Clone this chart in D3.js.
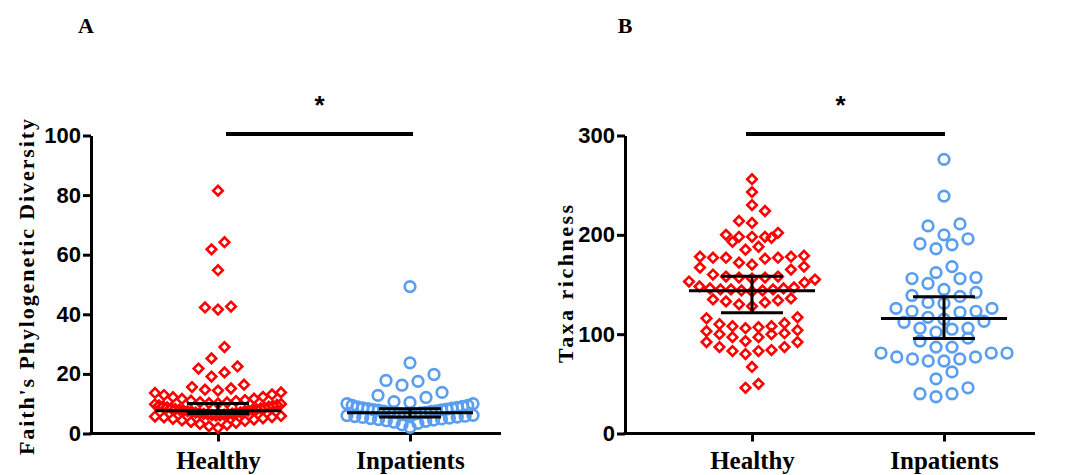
<!DOCTYPE html>
<html><head><meta charset="utf-8">
<script src="https://cdn.jsdelivr.net/npm/d3@7"></script>
<style>html,body{margin:0;padding:0;background:#fff;}svg{display:block;}</style>
</head><body>
<svg id="chart" width="1070" height="475"></svg>
<script>
// ---------------- data ----------------
const categories = ["Healthy", "Inpatients"];
const panelLabels = ["A", "B"];
const yTitles = ["Faith's Phylogenetic Diversity", "Taxa richness"];
const sigLabels = ["*", "*"];
const faithTicks = [0, 20, 40, 60, 80, 100];
const taxaTicks = [0, 100, 200, 300];

const faithHealthy = [81.5, 64.2, 61.8, 54.8, 42.6, 41.6, 42.3, 29.0, 25.2, 22.5, 20.5, 21.8, 19.1, 16.4,
  15.6, 15.1, 14.7, 14.4, 13.8, 13.6, 13.1, 12.9, 12.3, 12.2, 11.7, 11.6, 11.2, 11.0, 10.9, 10.5, 10.4, 10.2, 10.1, 9.9,
  9.8, 9.6, 9.4, 9.3, 9.1, 9.0, 8.8, 8.6, 8.5, 8.4, 8.2, 8.1, 8.0, 7.9, 7.7, 7.7, 7.5, 7.4, 7.3, 7.1, 7.0, 6.9, 6.8, 6.7,
  6.6, 6.4, 6.3, 6.2, 6.0, 5.9, 5.7, 5.5, 5.4, 5.1, 4.9, 4.7, 4.4, 4.2, 3.9, 3.6, 3.2, 2.9, 2.4, 1.9, 6.5, 6.1];
const faithInpatients = [49.3, 23.7, 19.8, 17.8, 17.5, 16.2, 13.8, 12.8, 12.1, 10.7, 10.4, 10.0, 10.0, 9.4, 9.4,
  9.1, 8.9, 8.8, 8.6, 8.5, 8.3, 8.2, 8.0, 7.9, 7.8, 7.6, 7.5, 7.4, 7.2, 7.1, 7.0, 6.9, 6.7, 6.6, 6.4, 6.3, 6.1, 6.0,
  5.8, 5.7, 5.5, 5.4, 5.2, 5.0, 4.9, 4.7, 4.5, 4.3, 4.1, 3.8, 3.4, 2.9, 2.1];
const taxaHealthy = [256, 243, 230, 224, 214, 212,
  202, 198, 198, 193, 197, 198, 200,
  188, 185,
  178, 177, 176, 179, 177, 177, 178, 172,
  168, 170, 167, 165,
  160, 158, 157, 156, 152, 153, 155, 157, 158,
  145, 146, 147, 145, 143, 144, 146, 145, 144, 148,
  135, 133, 132, 136, 134, 130, 128,
  117, 111, 108, 107, 106, 108, 110, 116,
  103, 100, 97, 93, 92, 87, 87, 92, 97, 100, 101, 104,
  83, 80, 83, 84,
  67, 46, 50];
const taxaInpatients = [276, 239, 209, 211, 196, 190, 186, 191, 200, 168, 157, 156, 162, 151, 156, 145, 142, 139, 138,
  132, 126, 123, 122, 123, 126, 131, 117, 113, 115, 112, 106, 105, 102, 106, 96, 93, 87, 87,
  81, 77, 75, 73, 81, 73, 75, 77, 81, 55, 62, 40, 37, 40, 46];

const faithCenter = [7.6, 7.0], faithLower = [6.7, 5.5], faithUpper = [10.1, 8.3];
const taxaCenter = [143.6, 115.8], taxaLower = [121.5, 95.6], taxaUpper = [158.4, 137.6];

// ---------------- drawing ----------------
const svg = d3.select("#chart");
const RED = "#ff0000", BLUE = "#5a9ef0";
const SANS = "'Liberation Sans', Arial, sans-serif";
const SERIF = "'Liberation Serif', 'Times New Roman', serif";

const panels = [
  { ox: 91, yMax: 100, ticks: faithTicks, series: [faithHealthy, faithInpatients],
    center: faithCenter, lower: faithLower, upper: faithUpper, sigDx: [8, 3], titleX: 34, titleLen: 336, labelX: 86, titleCY: 287 },
  { ox: 625, yMax: 300, ticks: taxaTicks, series: [taxaHealthy, taxaInpatients],
    center: taxaCenter, lower: taxaLower, upper: taxaUpper, sigDx: [-6, 1], titleX: 573, titleLen: 158, labelX: 625, titleCY: 284 }
];
const yBottom = 433.5, yTop = 135.5, axisLen = 410;
const spacingBySeries = [13, 16];

function swarm(values, y, cx, spacing) {
  const pts = values.map(v => ({ v, py: y(v) })).sort((a, b) => a.v - b.v);
  const rows = [];
  let cur = null;
  pts.forEach(p => {
    if (!cur || cur.start - p.py >= 12) { cur = { start: p.py, items: [] }; rows.push(cur); }
    cur.items.push(p);
  });
  rows.forEach(r => {
    const n = r.items.length;
    const s = n > 1 ? Math.min(spacing, 126 / (n - 1)) : 0;
    const offs = [];
    if (n % 2 === 1) { offs.push(0); for (let k = 1; offs.length < n; k++) { offs.push(-k); if (offs.length < n) offs.push(k); } }
    else { for (let k = 0; offs.length < n; k++) { offs.push(-(k + 0.5)); offs.push(k + 0.5); } }
    r.items.forEach((p, i) => { p.px = cx + offs[i] * s; });
  });
  return pts;
}

panels.forEach((P, pi) => {
  const g = svg.append("g");
  const y = d3.scaleLinear().domain([0, P.yMax]).range([yBottom, yTop]);
  const x = d3.scalePoint().domain(categories).range([P.ox + 127, P.ox + 319]);

  // y axis
  const ya = g.append("g").attr("transform", `translate(${P.ox},0)`)
    .call(d3.axisLeft(y).tickValues(P.ticks).tickSize(8).tickSizeOuter(0).tickPadding(2));
  ya.selectAll("path,line").attr("stroke", "#000").attr("stroke-width", 3);
  ya.selectAll("text").attr("font-family", SANS).attr("font-weight", "bold").attr("font-size", 22).attr("fill", "#000");

  // x axis
  const xa = g.append("g").attr("transform", `translate(0,${yBottom})`)
    .call(d3.axisBottom(x).tickSize(8).tickSizeOuter(0).tickPadding(10));
  xa.select(".domain").remove();
  xa.selectAll("line").attr("stroke", "#000").attr("stroke-width", 3);
  xa.selectAll("text").attr("font-family", SERIF).attr("font-weight", "bold").attr("font-size", 25).attr("fill", "#000");
  g.append("line").attr("x1", P.ox - 1.5).attr("x2", P.ox + axisLen).attr("y1", yBottom).attr("y2", yBottom)
    .attr("stroke", "#000").attr("stroke-width", 3);

  // points
  categories.forEach((c, ci) => {
    const pts = swarm(P.series[ci], y, x(c), spacingBySeries[ci]);
    if (ci === 0) {
      g.append("g").selectAll("path").data(pts).join("path")
        .attr("d", d3.symbol(d3.symbolSquare, 46)())
        .attr("transform", d => `translate(${d.px},${d.py}) rotate(45)`)
        .attr("fill", "none").attr("stroke", RED).attr("stroke-width", 2.6);
    } else {
      g.append("g").selectAll("circle").data(pts).join("circle")
        .attr("cx", d => d.px).attr("cy", d => d.py).attr("r", 5.3)
        .attr("fill", "none").attr("stroke", BLUE).attr("stroke-width", 2.7);
    }
  });

  // summary lines
  categories.forEach((c, ci) => {
    const cx = x(c);
    const sg = g.append("g").attr("stroke", "#000").attr("stroke-width", 3);
    sg.append("line").attr("x1", cx - 63).attr("x2", cx + 63).attr("y1", y(P.center[ci])).attr("y2", y(P.center[ci]));
    sg.append("line").attr("x1", cx).attr("x2", cx).attr("y1", y(P.lower[ci])).attr("y2", y(P.upper[ci]));
    sg.append("line").attr("x1", cx - 31).attr("x2", cx + 31).attr("y1", y(P.lower[ci])).attr("y2", y(P.lower[ci]));
    sg.append("line").attr("x1", cx - 31).attr("x2", cx + 31).attr("y1", y(P.upper[ci])).attr("y2", y(P.upper[ci]));
  });

  // significance bar
  const x1 = x(categories[0]) + P.sigDx[0], x2 = x(categories[1]) + P.sigDx[1];
  const sy = yTop - 1.5;
  g.append("line").attr("x1", x1).attr("x2", x2).attr("y1", sy).attr("y2", sy).attr("stroke", "#000").attr("stroke-width", 4);
  g.append("text").attr("x", (x1 + x2) / 2 - (pi ? 5 : 0)).attr("y", 114).attr("text-anchor", "middle")
    .attr("font-family", SANS).attr("font-weight", "bold").attr("font-size", 26).text(sigLabels[pi]);

  // y title
  g.append("text").attr("transform", `translate(${P.titleX},${P.titleCY}) rotate(-90)`)
    .attr("text-anchor", "middle").attr("font-family", SERIF).attr("font-weight", "bold").attr("font-size", 22)
    .attr("textLength", P.titleLen).attr("lengthAdjust", "spacing").text(yTitles[pi]);

  // panel label
  g.append("text").attr("x", P.labelX).attr("y", 33).attr("text-anchor", "middle")
    .attr("font-family", SERIF).attr("font-weight", "bold").attr("font-size", 22).text(panelLabels[pi]);
});
</script>
</body></html>
